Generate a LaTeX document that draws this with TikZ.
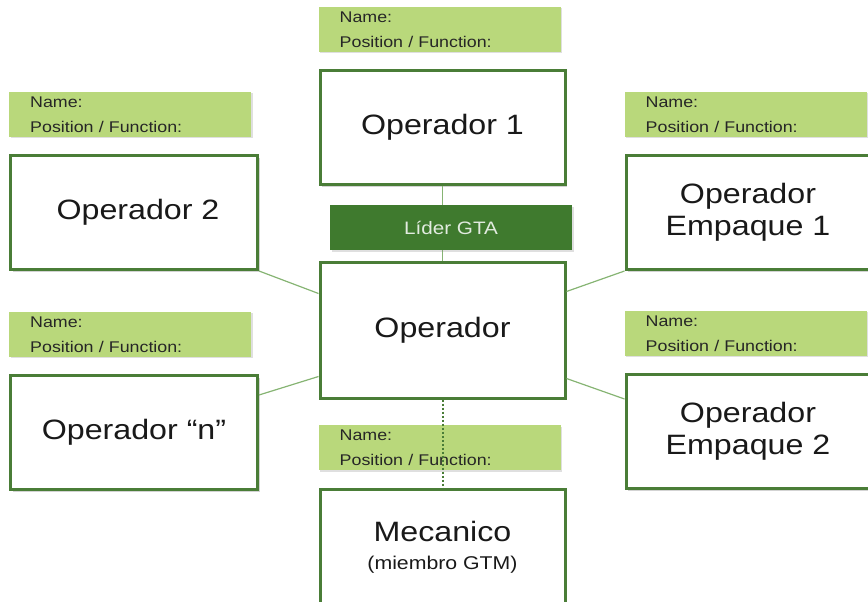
\documentclass[tikz,border=0pt]{standalone}
\usepackage{fontspec}
\setmainfont{Liberation Sans}[FakeStretch=1.15]
\usetikzlibrary{
  positioning,
  shadows
}

\definecolor{boxgreen}{HTML}{4A7D37}
\definecolor{tagfill}{HTML}{B9D87B}
\definecolor{leadfill}{HTML}{3F7A2E}
\definecolor{linkgreen}{HTML}{86B473}

\tikzset{
  member/.style={
    rectangle,
    draw=boxgreen,
    line width=3pt,
    fill=white,
    text=black!90,
    align=center,
    inner sep=0pt,
    minimum width=245pt,
    minimum height=114pt,
    font=\fontsize{28}{32}\selectfont,
    drop shadow={shadow xshift=2pt, shadow yshift=-2pt, opacity=0.35}
  },
  tag/.style={
    rectangle,
    fill=tagfill,
    text=black!85,
    align=left,
    inner xsep=21pt,
    inner ysep=0pt,
    text width=200pt,
    minimum height=45pt,
    font=\fontsize{15.5}{25}\selectfont,
    drop shadow={shadow xshift=1.5pt, shadow yshift=-1.5pt, opacity=0.25}
  },
  link/.style={draw=linkgreen, line width=1.2pt}
}

\begin{document}
\begin{tikzpicture}[x=1pt, y=-1pt, node distance=17pt]
\useasboundingbox (0,0) rectangle (868,602);

% team members
\node [member] (op1) at (442.5,127.5) {Operador 1};
\node [member, minimum height=136pt] (op) at (442.5,330) {Operador};
\node [member, minimum width=247pt] (op2) at (134,212.5) {\hspace*{8pt}Operador 2};
\node [member, minimum width=247pt] (opn) at (134,432.5) {Operador ``n''};
\node [member, minimum width=244pt] (emp1) at (748,212.5) {Operador\\Empaque 1};
\node [member, minimum width=244pt] (emp2) at (748,431.5) {Operador\\Empaque 2};
\node [member, minimum height=116pt] (mec) at (442.5,547)
  {Mecanico\\[-4pt]{\fontsize{18.5}{22}\selectfont (miembro GTM)}};

% name tags
\node [tag, above=17pt of op1.north west, anchor=south west] (tag-op1) {Name:\\Position / Function:};
\node [tag, above=17pt of op2.north west, anchor=south west] (tag-op2) {Name:\\Position / Function:};
\node [tag, above=17pt of opn.north west, anchor=south west] (tag-opn) {Name:\\Position / Function:};
\node [tag, above=17pt of emp1.north west, anchor=south west] (tag-emp1) {Name:\\Position / Function:};
\node [tag, above=17pt of emp2.north west, anchor=south west] (tag-emp2) {Name:\\Position / Function:};
\node [tag, above=17pt of mec.north west, anchor=south west] (tag-mec) {Name:\\Position / Function:};

% connectors
\draw [link] (op1.south) -- (op.north);
\draw [link] (op2.south east) -- ([yshift=-33pt]op.north west);
\draw [link] ([yshift=-21pt]opn.north east) -- ([yshift=23pt]op.south west);
\draw [link] ([yshift=-31pt]op.north east) -- (emp1.south west);
\draw [link] ([yshift=21pt]op.south east) -- ([yshift=-26pt]emp2.north west);
\draw [boxgreen, line width=2pt, dotted] (op.south) -- (mec.north);

\node [
  rectangle,
  fill=leadfill,
  text=white!85!leadfill,
  minimum width=242pt,
  minimum height=45pt,
  font=\fontsize{18}{22}\selectfont,
  drop shadow={shadow xshift=1.5pt, shadow yshift=-1.5pt, opacity=0.25}
] (lider) at (451,227.5) {Líder GTA};

\end{tikzpicture}
\end{document}
